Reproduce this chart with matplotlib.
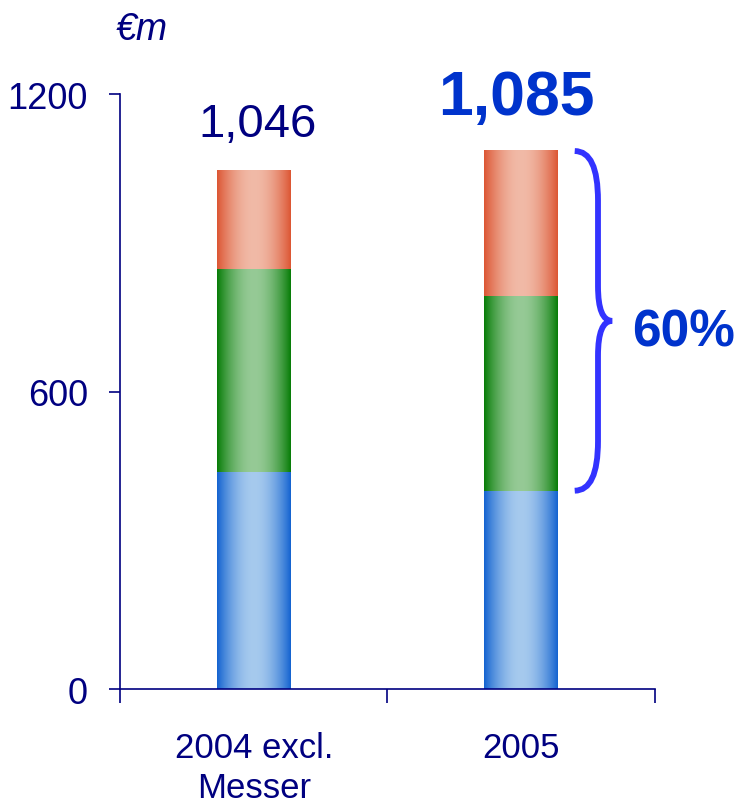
import numpy as np
import matplotlib.pyplot as plt
from matplotlib.path import Path
from matplotlib.patches import PathPatch
from matplotlib.colors import to_rgb

categories = ['2004 excl.\nMesser', '2005']
blue_vals = [438, 400]
green_vals = [409, 392]
red_vals = [199, 293]
totals = [1046, 1085]
share_label = '60%'
y_ticks = [0, 600, 1200]

NAVY = '#000080'
BRIGHT = '#0033cc'
BRACE = '#3333ff'

seg_colors = [
    ('#1262d0', '#a6caee'),   # blue
    ('#067c06', '#96ca96'),   # green
    ('#dc5532', '#f1baa7'),   # red
]


def gradient_fill(ax, rect, edge, center):
    # horizontal cylinder-like shading clipped to the bar rectangle
    t = np.linspace(0, 1, 200)
    w = np.sin(np.pi * t) ** 0.9
    e = np.array(to_rgb(edge))
    c = np.array(to_rgb(center))
    img = (e[None, :] * (1 - w[:, None]) + c[None, :] * w[:, None])[None, :, :]
    x0, y0 = rect.get_x(), rect.get_y()
    ax.imshow(img, extent=[x0, x0 + rect.get_width(), y0, y0 + rect.get_height()],
              aspect='auto', interpolation='bilinear', zorder=2, clip_path=rect)


def draw_brace(ax, x0, xm, xt, ytop, ybot, r=100):
    ymid = (ytop + ybot) / 2
    verts = [(x0, ytop), (xm, ytop), (xm, ytop - r),
             (xm, ymid + r * 0.7), (xm, ymid), (xt, ymid),
             (xm, ymid), (xm, ymid - r * 0.7),
             (xm, ybot + r), (xm, ybot), (x0, ybot)]
    codes = [Path.MOVETO, Path.CURVE3, Path.CURVE3,
             Path.LINETO, Path.CURVE3, Path.CURVE3,
             Path.CURVE3, Path.CURVE3,
             Path.LINETO, Path.CURVE3, Path.CURVE3]
    ax.add_patch(PathPatch(Path(verts, codes), fc='none', ec=BRACE, lw=4.2,
                           capstyle='butt', joinstyle='miter', clip_on=False, zorder=4))
    return ymid


fig = plt.figure(figsize=(7.38, 8.12), dpi=100)
ax = fig.add_axes([0.1626, 0.1502, 0.7249, 0.7328])

x = np.arange(len(categories))
width = 0.275
bottom = np.zeros(len(categories))
for vals, (edge, center) in zip([blue_vals, green_vals, red_vals], seg_colors):
    bars = ax.bar(x, vals, width, bottom=bottom, color='none', edgecolor='none', zorder=1)
    for rect in bars:
        gradient_fill(ax, rect, edge, center)
    bottom += np.array(vals)

ax.set_xlim(-0.5, 1.5)
ax.set_ylim(0, 1200)

for s in ['top', 'right']:
    ax.spines[s].set_visible(False)
for s in ['left', 'bottom']:
    ax.spines[s].set_color(NAVY)
    ax.spines[s].set_linewidth(1.2)

ax.set_yticks(y_ticks)
ax.set_yticklabels([str(v) for v in y_ticks])
ax.tick_params(axis='y', direction='out', length=8, width=1.2, color=NAVY,
               labelcolor=NAVY, labelsize=26, pad=15)
for lab in ax.get_yticklabels():
    lab.set_fontfamily('Liberation Sans')

ax.set_xticks(x)
ax.set_xticklabels(categories, linespacing=1.28)
ax.tick_params(axis='x', which='major', length=0, labelcolor=NAVY, labelsize=25, pad=30)
for lab in ax.get_xticklabels():
    lab.set_fontfamily('Liberation Sans')
ax.set_xticks([-0.5, 0.5, 1.5], minor=True)
ax.tick_params(axis='x', which='minor', direction='out', length=10, width=1.2, color=NAVY)

# totals above bars
ax.text(x[0] + 0.016, totals[0] + 69, f'{totals[0]:,}', ha='center', va='baseline',
        fontsize=34, color=NAVY, family='Liberation Sans', clip_on=False)
ax.text(x[1] - 0.018, totals[1] + 75, f'{totals[1]:,}', ha='center', va='baseline',
        fontsize=45, fontweight='bold', color=BRIGHT, family='Liberation Sans', clip_on=False)

# brace over green + red of 2005
ymid = draw_brace(ax, x[1] + 0.2, x[1] + 0.287, x[1] + 0.34, totals[1], blue_vals[1])
ax.text(x[1] + 0.608, ymid - 22, share_label, ha='center', va='center',
        fontsize=37, fontweight='bold', color=BRIGHT, family='Liberation Sans', clip_on=False)

# unit label
ax.text(-0.42, 1311, '€m', ha='center', va='baseline', fontsize=27, style='italic',
        color=NAVY, family='Liberation Sans', clip_on=False)

fig.savefig('out.png', dpi=100)
